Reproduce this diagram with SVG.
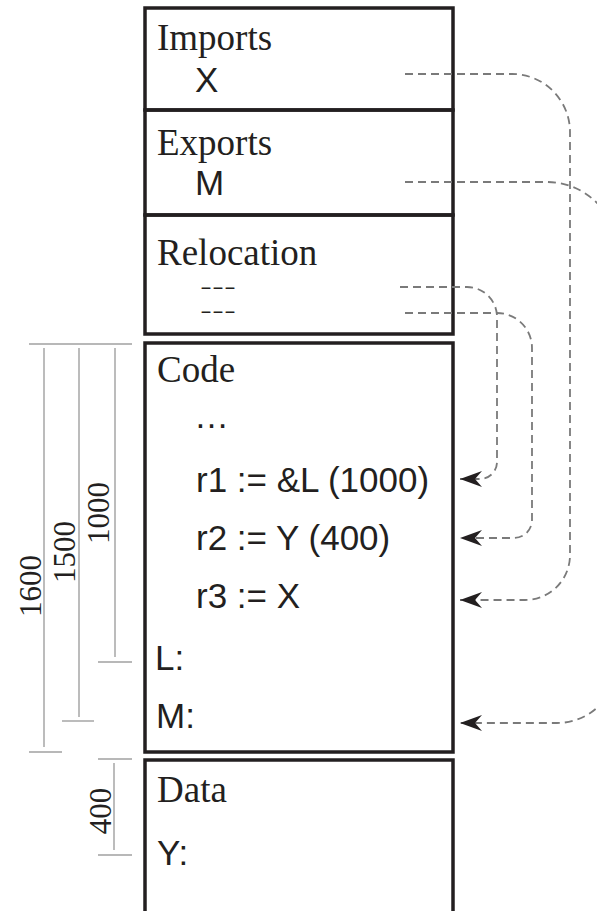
<svg xmlns="http://www.w3.org/2000/svg" width="597" height="911" viewBox="0 0 597 911">
<defs>
<style>
.serif{font-family:"Liberation Serif","Times New Roman",serif;font-size:37px;fill:#231f20}
.sans{font-family:"Liberation Sans",Arial,sans-serif;font-size:35px;fill:#231f20}
.dash{font-family:"Liberation Sans",Arial,sans-serif;font-size:20px;fill:#231f20}
.dim{font-family:"Liberation Serif","Times New Roman",serif;font-size:31px;fill:#231f20}
.box{fill:none;stroke:#231f20;stroke-width:3.5}
.dimline{stroke:#a0a0a0;stroke-width:1.4;fill:none}
.conn{fill:none;stroke:#7a7a7a;stroke-width:1.8;stroke-dasharray:8 5;marker-end:url(#arr)}
</style>
<marker id="arr" markerUnits="userSpaceOnUse" viewBox="-23 -10 25 20" refX="0" refY="0" markerWidth="25" markerHeight="20" orient="auto">
<path d="M0,0 L-22,-8 L-15,0 L-22,8 Z" fill="#231f20"/>
</marker>
</defs>
<rect width="597" height="911" fill="#ffffff"/>

<g id="imports">
<rect class="box" x="145" y="8" width="308" height="102"/>
<text class="serif" x="157" y="50">Imports</text>
<text class="sans" x="195" y="92">X</text>
</g>
<g id="exports">
<rect class="box" x="145" y="110" width="308" height="105"/>
<text class="serif" x="157" y="155">Exports</text>
<text class="sans" x="195" y="195">M</text>
</g>
<g id="relocation">
<rect class="box" x="145" y="215" width="308" height="119"/>
<text class="serif" x="157" y="265">Relocation</text>
<text class="dash" transform="translate(200,293.5) scale(1.8,1)" x="0" y="0">---</text>
<text class="dash" transform="translate(200,317.5) scale(1.8,1)" x="0" y="0">---</text>
</g>
<g id="code">
<rect class="box" x="145" y="343" width="308" height="409"/>
<text class="serif" x="157" y="382">Code</text>
<text class="sans" x="194" y="428">…</text>
<text class="sans" x="196" y="492">r1 := &amp;L (1000)</text>
<text class="sans" x="196" y="550">r2 := Y (400)</text>
<text class="sans" x="196" y="608">r3 := X</text>
<text class="sans" x="155" y="670">L:</text>
<text class="sans" x="156" y="728">M:</text>
</g>
<g id="data">
<rect class="box" x="145" y="760" width="308" height="160"/>
<text class="serif" x="157" y="802">Data</text>
<text class="sans" x="157" y="865">Y:</text>
</g>

<g id="dimensions">
<line class="dimline" x1="29" y1="344" x2="132" y2="344"/>
<line class="dimline" x1="44" y1="348" x2="44" y2="747"/>
<line class="dimline" x1="79" y1="348" x2="79" y2="717"/>
<line class="dimline" x1="115" y1="348" x2="115" y2="657"/>
<line class="dimline" x1="98" y1="662" x2="132" y2="662"/>
<line class="dimline" x1="62" y1="721" x2="94" y2="721"/>
<line class="dimline" x1="29" y1="752" x2="62" y2="752"/>
<line class="dimline" x1="98" y1="759" x2="132" y2="759"/>
<line class="dimline" x1="114" y1="763" x2="114" y2="850"/>
<line class="dimline" x1="98" y1="855" x2="132" y2="855"/>
<text class="dim" text-anchor="middle" transform="translate(109,513) rotate(-90)">1000</text>
<text class="dim" text-anchor="middle" transform="translate(75,552) rotate(-90)">1500</text>
<text class="dim" text-anchor="middle" transform="translate(41,586) rotate(-90)">1600</text>
<text class="dim" text-anchor="middle" transform="translate(111,811) rotate(-90)">400</text>
</g>

<g id="connectors">
<path class="conn" d="M405,74 H512 A58,58 0 0 1 570,132 V555 A45,45 0 0 1 525,600 H460"/>
<path class="conn" d="M405,182 H547 A70,70 0 0 1 617,252 V663 A60,60 0 0 1 557,723 H460"/>
<path class="conn" d="M400,287 H467 A30,30 0 0 1 497,317 V462 A17,17 0 0 1 480,479 H460"/>
<path class="conn" d="M405,313 H497 A35,35 0 0 1 532,348 V520 A18,18 0 0 1 514,538 H460"/>
</g>
</svg>
